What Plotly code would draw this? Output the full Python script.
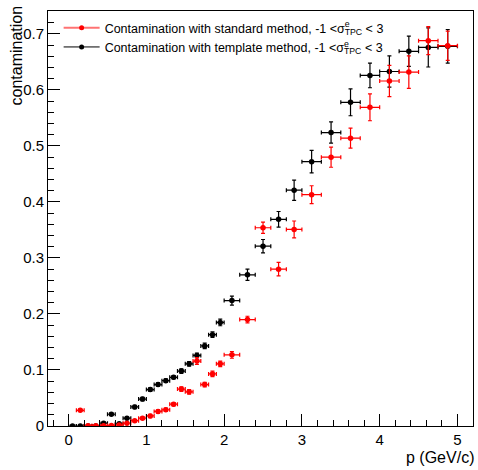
import plotly.graph_objects as go

# Momentum bin centres and half-widths (GeV/c)
p_bins = [0.05, 0.15, 0.25, 0.35, 0.45, 0.55, 0.65, 0.75, 0.85, 0.95,
          1.05, 1.15, 1.25, 1.35, 1.45, 1.55, 1.65, 1.75, 1.85, 1.95,
          2.1, 2.3, 2.5, 2.7, 2.9,
          3.125, 3.375, 3.625, 3.875, 4.125, 4.375, 4.625, 4.875]
p_halfwidth = [0.05] * 20 + [0.1] * 5 + [0.125] * 8

# Contamination from the template method
cont_template = [0.0, 0.0, 0.0, 0.0, 0.005, 0.021, 0.004, 0.014, 0.034, 0.048,
                 0.065, 0.074, 0.081, 0.087, 0.098, 0.111, 0.126, 0.143, 0.163, 0.185,
                 0.224, 0.270, 0.321, 0.369, 0.421,
                 0.472, 0.524, 0.578, 0.626, 0.633, 0.669, 0.676, 0.678]
err_template = [0.001, 0.001, 0.001, 0.001, 0.002, 0.002, 0.002, 0.002, 0.003, 0.003,
                0.003, 0.003, 0.003, 0.003, 0.004, 0.004, 0.004, 0.005, 0.005, 0.006,
                0.008, 0.010, 0.012, 0.014, 0.018,
                0.020, 0.019, 0.024, 0.022, 0.028, 0.027, 0.035, 0.030]

# Contamination from the standard method (no entry in the first bin)
p_std = p_bins[1:]
hw_std = p_halfwidth[1:]
cont_standard = [0.028, 0.0005, 0.0005, 0.0005, 0.001, 0.002, 0.005, 0.0095, 0.014,
                 0.018, 0.026, 0.029, 0.039, 0.066, 0.061, 0.116, 0.074, 0.093, 0.111,
                 0.127, 0.190, 0.354, 0.280, 0.351,
                 0.413, 0.480, 0.514, 0.569, 0.616, 0.632, 0.688, 0.679]
err_standard = [0.002, 0.001, 0.001, 0.001, 0.001, 0.002, 0.002, 0.002, 0.002,
                0.003, 0.003, 0.003, 0.003, 0.004, 0.004, 0.006, 0.004, 0.005, 0.005,
                0.006, 0.006, 0.010, 0.012, 0.015,
                0.016, 0.018, 0.018, 0.024, 0.028, 0.029, 0.025, 0.026]

label_std = ("Contamination with standard method, -1 &lt;σ"
             "<sup><span style='letter-spacing:-5px'>e</span></sup><sub>TPC</sub> &lt; 3")
label_tmpl = ("Contamination with template method, -1 &lt;σ"
              "<sup><span style='letter-spacing:-5px'>e</span></sup><sub>TPC</sub> &lt; 3")

FONT = "Liberation Sans, Arial, Helvetica, sans-serif"


def points(x, xerr, y, yerr, color):
    return go.Scatter(
        x=x, y=y, mode="markers", showlegend=False,
        marker=dict(color=color, size=5.5, symbol="circle"),
        error_x=dict(type="data", array=xerr, color=color, thickness=1.2, width=2),
        error_y=dict(type="data", array=yerr, color=color, thickness=1.2, width=2),
        cliponaxis=True,
    )


fig = go.Figure()
fig.add_trace(points(p_bins, p_halfwidth, cont_template, err_template, "black"))
fig.add_trace(points(p_std, hw_std, cont_standard, err_standard, "red"))

# Legend entries (line + marker)
fig.add_trace(go.Scatter(x=[None], y=[None], mode="lines+markers", name=label_std,
                         line=dict(color="rgba(255,0,0,0.55)", width=2),
                         marker=dict(color="red", size=5)))
fig.add_trace(go.Scatter(x=[None], y=[None], mode="lines+markers", name=label_tmpl,
                         line=dict(color="black", width=1),
                         marker=dict(color="black", size=5)))

fig.update_layout(
    width=478, height=470,
    margin=dict(l=48, r=5, t=11, b=44),
    paper_bgcolor="white", plot_bgcolor="white",
    font=dict(family=FONT, color="black"),
    legend=dict(x=0.025, y=0.995, xanchor="left", yanchor="top",
                bgcolor="rgba(0,0,0,0)", font=dict(size=12.5, family=FONT),
                tracegroupgap=0, itemwidth=36),
    annotations=[
        dict(text="contamination", xref="paper", yref="paper", x=0, y=1,
             xshift=-22, yshift=7, xanchor="right", yanchor="top", textangle=-90,
             showarrow=False, font=dict(size=16, family=FONT)),
        dict(text="p (GeV/c)", xref="paper", yref="paper", x=1, y=0,
             xanchor="right", yanchor="top", yshift=-21, xshift=3,
             showarrow=False, font=dict(size=16, family=FONT)),
    ],
)

fig.update_xaxes(
    range=[-0.265, 5.2], showgrid=False, zeroline=False,
    showline=True, linecolor="black", linewidth=1, mirror=True,
    ticks="inside", ticklen=12, tickcolor="black", dtick=1, tick0=0,
    tickfont=dict(size=15, family=FONT),
    minor=dict(ticks="inside", ticklen=6, dtick=0.2, tick0=0, tickcolor="black"),
)
fig.update_yaxes(
    range=[0, 0.741], showgrid=False, zeroline=False,
    showline=True, linecolor="black", linewidth=1, mirror=True,
    ticks="inside", ticklen=12, tickcolor="black", dtick=0.1, tick0=0,
    tickfont=dict(size=15, family=FONT),
    minor=dict(ticks="inside", ticklen=6, dtick=0.02, tick0=0, tickcolor="black"),
)

fig.write_html("out.html")
